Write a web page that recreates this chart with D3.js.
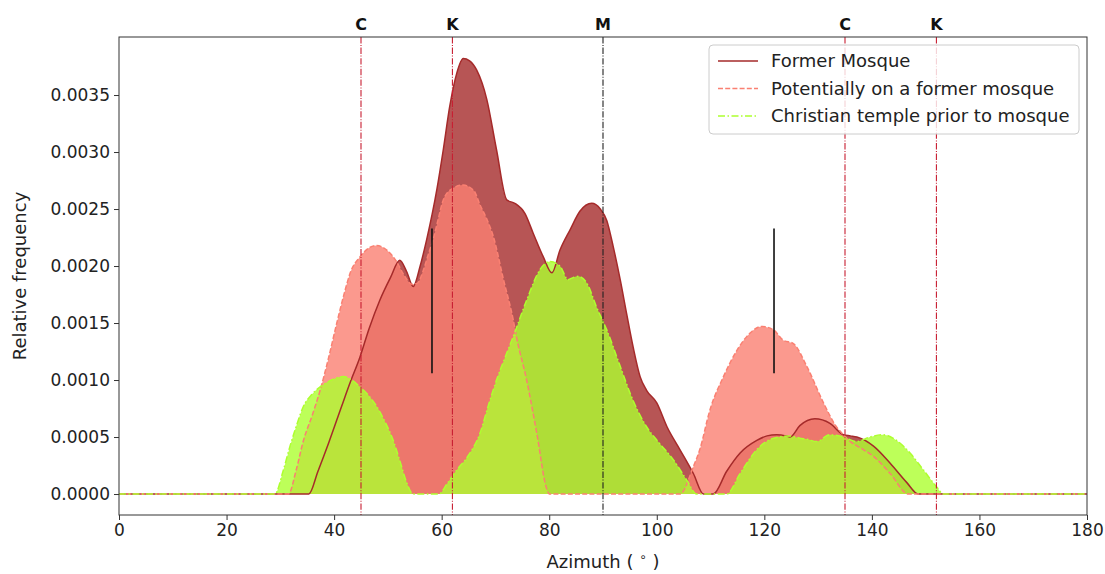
<!DOCTYPE html>
<html>
<head>
<meta charset="utf-8">
<script src="https://cdn.jsdelivr.net/npm/d3@7"></script>
<style>
body{margin:0;background:#fff;}
svg text{font-family:"DejaVu Sans",sans-serif;fill:#222;}
</style>
</head>
<body>
<svg id="chart" width="1105" height="574"></svg>
<script>
//azimuth (deg) / relative frequency pairs
var mosqueAz  = [0,35.3,37,39,41.4,43,44.8,46.5,48.5,50.5,52.2,53.5,54.7,56,57.2,59.1,60.3,61.5,62.8,64,65.2,66.5,68.4,70.2,72.1,73.6,75.5,77,78.9,80.5,82,83.9,85.7,87.9,89.5,90.7,91.9,93.2,94.4,95.6,96.9,98.1,100,101.9,104.3,106.8,108.7,110.5,113,115.5,118.6,120.5,122.3,124,124.8,126.6,129.4,132.2,134.7,136,137.2,140.3,143.4,146.5,148.6,180];
var mosqueVal = [0,0,0.0002,0.00045,0.00077,0.00098,0.0012,0.00145,0.0017,0.0019,0.00205,0.00195,0.00182,0.002,0.00223,0.00267,0.00302,0.0034,0.00369,0.00382,0.0038,0.00372,0.00346,0.00302,0.00258,0.00255,0.00246,0.00229,0.00208,0.00194,0.00214,0.00232,0.00248,0.00255,0.0025,0.0024,0.00217,0.00188,0.00158,0.00129,0.00103,0.00091,0.0008,0.00059,0.00039,0.00018,0,0,0.0002,0.00036,0.00047,0.00051,0.00052,0.00051,0.0005,0.0006,0.00066,0.00062,0.00052,0.00051,0.0005,0.00042,0.00027,0.0001,0,0];

var potAz  = [0,31.5,33,34.3,36,37.4,39,40.5,42,43,44.8,46.5,47.9,49.8,51.6,53,54.5,55.5,56.5,57.5,58.4,59.3,60.3,62,64,66,67.1,68.5,69.6,71.5,73.3,73.9,75.8,77.7,79.5,80,104.3,106.8,108,109.9,112.4,114.9,117.3,119.5,121.7,123.5,125.4,127.9,131,133.4,134.7,136,138.4,140.3,143.4,146.8,180];
var potVal = [0,0,0.00022,0.00047,0.0007,0.00091,0.0012,0.0015,0.00178,0.00194,0.00208,0.00216,0.00218,0.00214,0.00204,0.00192,0.00184,0.00185,0.00195,0.0021,0.00223,0.0024,0.00258,0.00268,0.00271,0.00266,0.00254,0.0024,0.00226,0.00188,0.00153,0.00138,0.001,0.00053,0.00005,0,0,0.00024,0.00039,0.00074,0.00103,0.00126,0.00141,0.00147,0.00144,0.00135,0.00132,0.00112,0.0008,0.00059,0.00052,0.00046,0.00039,0.00033,0.00018,0,0];

var templeAz  = [0,29,30.5,31.8,33,34.3,35.8,37.4,39.5,41.7,43.3,44.8,46.3,47.9,49.5,51,52.3,53.5,54.7,59.5,61,62.8,65,67.1,68.7,70.2,71.8,73.3,75.8,78.3,80.1,82,83.5,84.5,85.4,87,88.8,90.7,93.2,95.6,98.1,100.6,103.1,105.6,107.4,113,115.5,118.6,121.7,124.8,126.6,128,129.7,132.2,134.7,137.2,139.6,142.1,144.6,147.1,149.6,152.1,153.3,180];
var templeVal = [0,0,0.0002,0.00042,0.0006,0.00077,0.00087,0.00094,0.001,0.00103,0.001,0.00094,0.00087,0.00077,0.00063,0.00047,0.00028,0.0001,0,0,0.00009,0.00021,0.00034,0.00053,0.00078,0.001,0.0012,0.00138,0.0017,0.00197,0.00204,0.002,0.00188,0.0019,0.00191,0.00185,0.00164,0.00144,0.00112,0.00082,0.00059,0.00044,0.0003,0.00012,0,0,0.00018,0.00039,0.00049,0.00051,0.00049,0.00048,0.00046,0.00052,0.0005,0.00046,0.0005,0.00052,0.00047,0.00036,0.00021,0.00006,0,0];

var seriesNames = ["Former Mosque","Potentially on a former mosque","Christian temple prior to mosque"];

//reference azimuths marked on top
var refAz = [45,62,90,135,152];
var refLabels = ["C","K","M","C","K"];

//black markers: azimuth, low, high
var markAz = [58.2,121.8];
var markLow = 0.00106, markHigh = 0.00233;

var xTicks = d3.range(0,181,20);
var yTicks = d3.range(0,0.00351,0.0005);

var W = 1105, H = 574;
var m = {l:119, r:W-1087, t:37, b:H-515};
var svg = d3.select("#chart");

var x = d3.scaleLinear().domain([0,180]).range([m.l, W-m.r]);
var y = d3.scaleLinear().domain([-0.000184,0.004009]).range([H-m.b, m.t]);

svg.append("defs").append("clipPath").attr("id","plotclip")
	.append("rect").attr("x",m.l).attr("y",m.t).attr("width",W-m.l-m.r).attr("height",H-m.t-m.b);

var plot = svg.append("g").attr("clip-path","url(#plotclip)");

var series = [
	{az:mosqueAz, val:mosqueVal, color:"#a52a2a", dash:null, lw:1.5},
	{az:potAz, val:potVal, color:"#fa8072", dash:"5,2.2", lw:1.5},
	{az:templeAz, val:templeVal, color:"#adff2f", dash:"7,2.5,1.5,2.5", lw:1.5}
];

var area = d3.area().curve(d3.curveMonotoneX)
	.x(function(d){return x(d[0]);}).y0(y(0)).y1(function(d){return y(d[1]);});
var line = d3.line().curve(d3.curveMonotoneX)
	.x(function(d){return x(d[0]);}).y(function(d){return y(d[1]);});

series.forEach(function(s){
	s.pts = s.az.map(function(a,i){return [a, s.val[i]];});
	plot.append("path").attr("d", area(s.pts))
		.attr("fill", s.color).attr("fill-opacity",0.8);
});
series.forEach(function(s){
	plot.append("path").attr("d", line(s.pts))
		.attr("fill","none").attr("stroke", s.color).attr("stroke-width", s.lw)
		.attr("stroke-dasharray", s.dash);
});

//black markers
plot.selectAll("line.mark").data(markAz).enter().append("line")
	.attr("x1",function(d){return x(d);}).attr("x2",function(d){return x(d);})
	.attr("y1",y(markLow)).attr("y2",y(markHigh))
	.attr("stroke","#111").attr("stroke-width",1.6);

//reference verticals
plot.selectAll("line.ref").data(refAz).enter().append("line")
	.attr("x1",function(d){return x(d);}).attr("x2",function(d){return x(d);})
	.attr("y1",m.t).attr("y2",H-m.b)
	.attr("stroke",function(d,i){return refLabels[i]==="M" ? "#222" : "#c81e32";})
	.attr("stroke-width",1.1)
	.attr("stroke-dasharray","6.4,1.6,1,1.6");

svg.selectAll("text.ref").data(refAz).enter().append("text")
	.attr("x",function(d){return x(d);}).attr("y",m.t-7)
	.attr("text-anchor","middle").attr("font-size",16).attr("font-weight","bold")
	.style("fill","#111")
	.text(function(d,i){return refLabels[i];});

//axes
var xAxis = svg.append("g").attr("transform","translate(0,"+(H-m.b)+")")
	.call(d3.axisBottom(x).tickValues(xTicks).tickSize(5).tickPadding(4).tickFormat(d3.format("d")));
var yAxis = svg.append("g").attr("transform","translate("+m.l+",0)")
	.call(d3.axisLeft(y).tickValues(yTicks).tickSize(5).tickPadding(4).tickFormat(d3.format(".4f")));
[xAxis,yAxis].forEach(function(a){
	a.select(".domain").remove();
	a.selectAll("text").attr("font-size",17).style("font-family","'DejaVu Sans',sans-serif").style("fill","#222");
	a.selectAll("line").attr("stroke","#333");
});

svg.append("rect").attr("x",m.l).attr("y",m.t).attr("width",W-m.l-m.r).attr("height",H-m.t-m.b)
	.attr("fill","none").attr("stroke","#333").attr("stroke-width",1);

//axis titles
var xt = svg.append("text").attr("x",(m.l+W-m.r)/2).attr("y",568)
	.attr("text-anchor","middle").attr("font-size",18);
xt.append("tspan").text("Azimuth ( ");
xt.append("tspan").attr("font-size",12).attr("dy",-7).text("∘");
xt.append("tspan").attr("dy",7).text(" )");

svg.append("text").attr("transform","translate(26,"+((m.t+H-m.b)/2)+") rotate(-90)")
	.attr("text-anchor","middle").attr("font-size",18).text("Relative frequency");

//legend
var lg = svg.append("g").attr("transform","translate(709,45)");
lg.append("rect").attr("width",370).attr("height",89).attr("rx",4)
	.attr("fill","#fff").attr("fill-opacity",0.8).attr("stroke","#ccc");
series.forEach(function(s,i){
	var yy = 16 + i*27.5;
	lg.append("line").attr("x1",9).attr("x2",49).attr("y1",yy).attr("y2",yy)
		.attr("stroke",s.color).attr("stroke-width",s.lw).attr("stroke-dasharray",s.dash);
	lg.append("text").attr("x",62).attr("y",yy+6).attr("font-size",18).text(seriesNames[i]);
});
</script>
</body>
</html>
